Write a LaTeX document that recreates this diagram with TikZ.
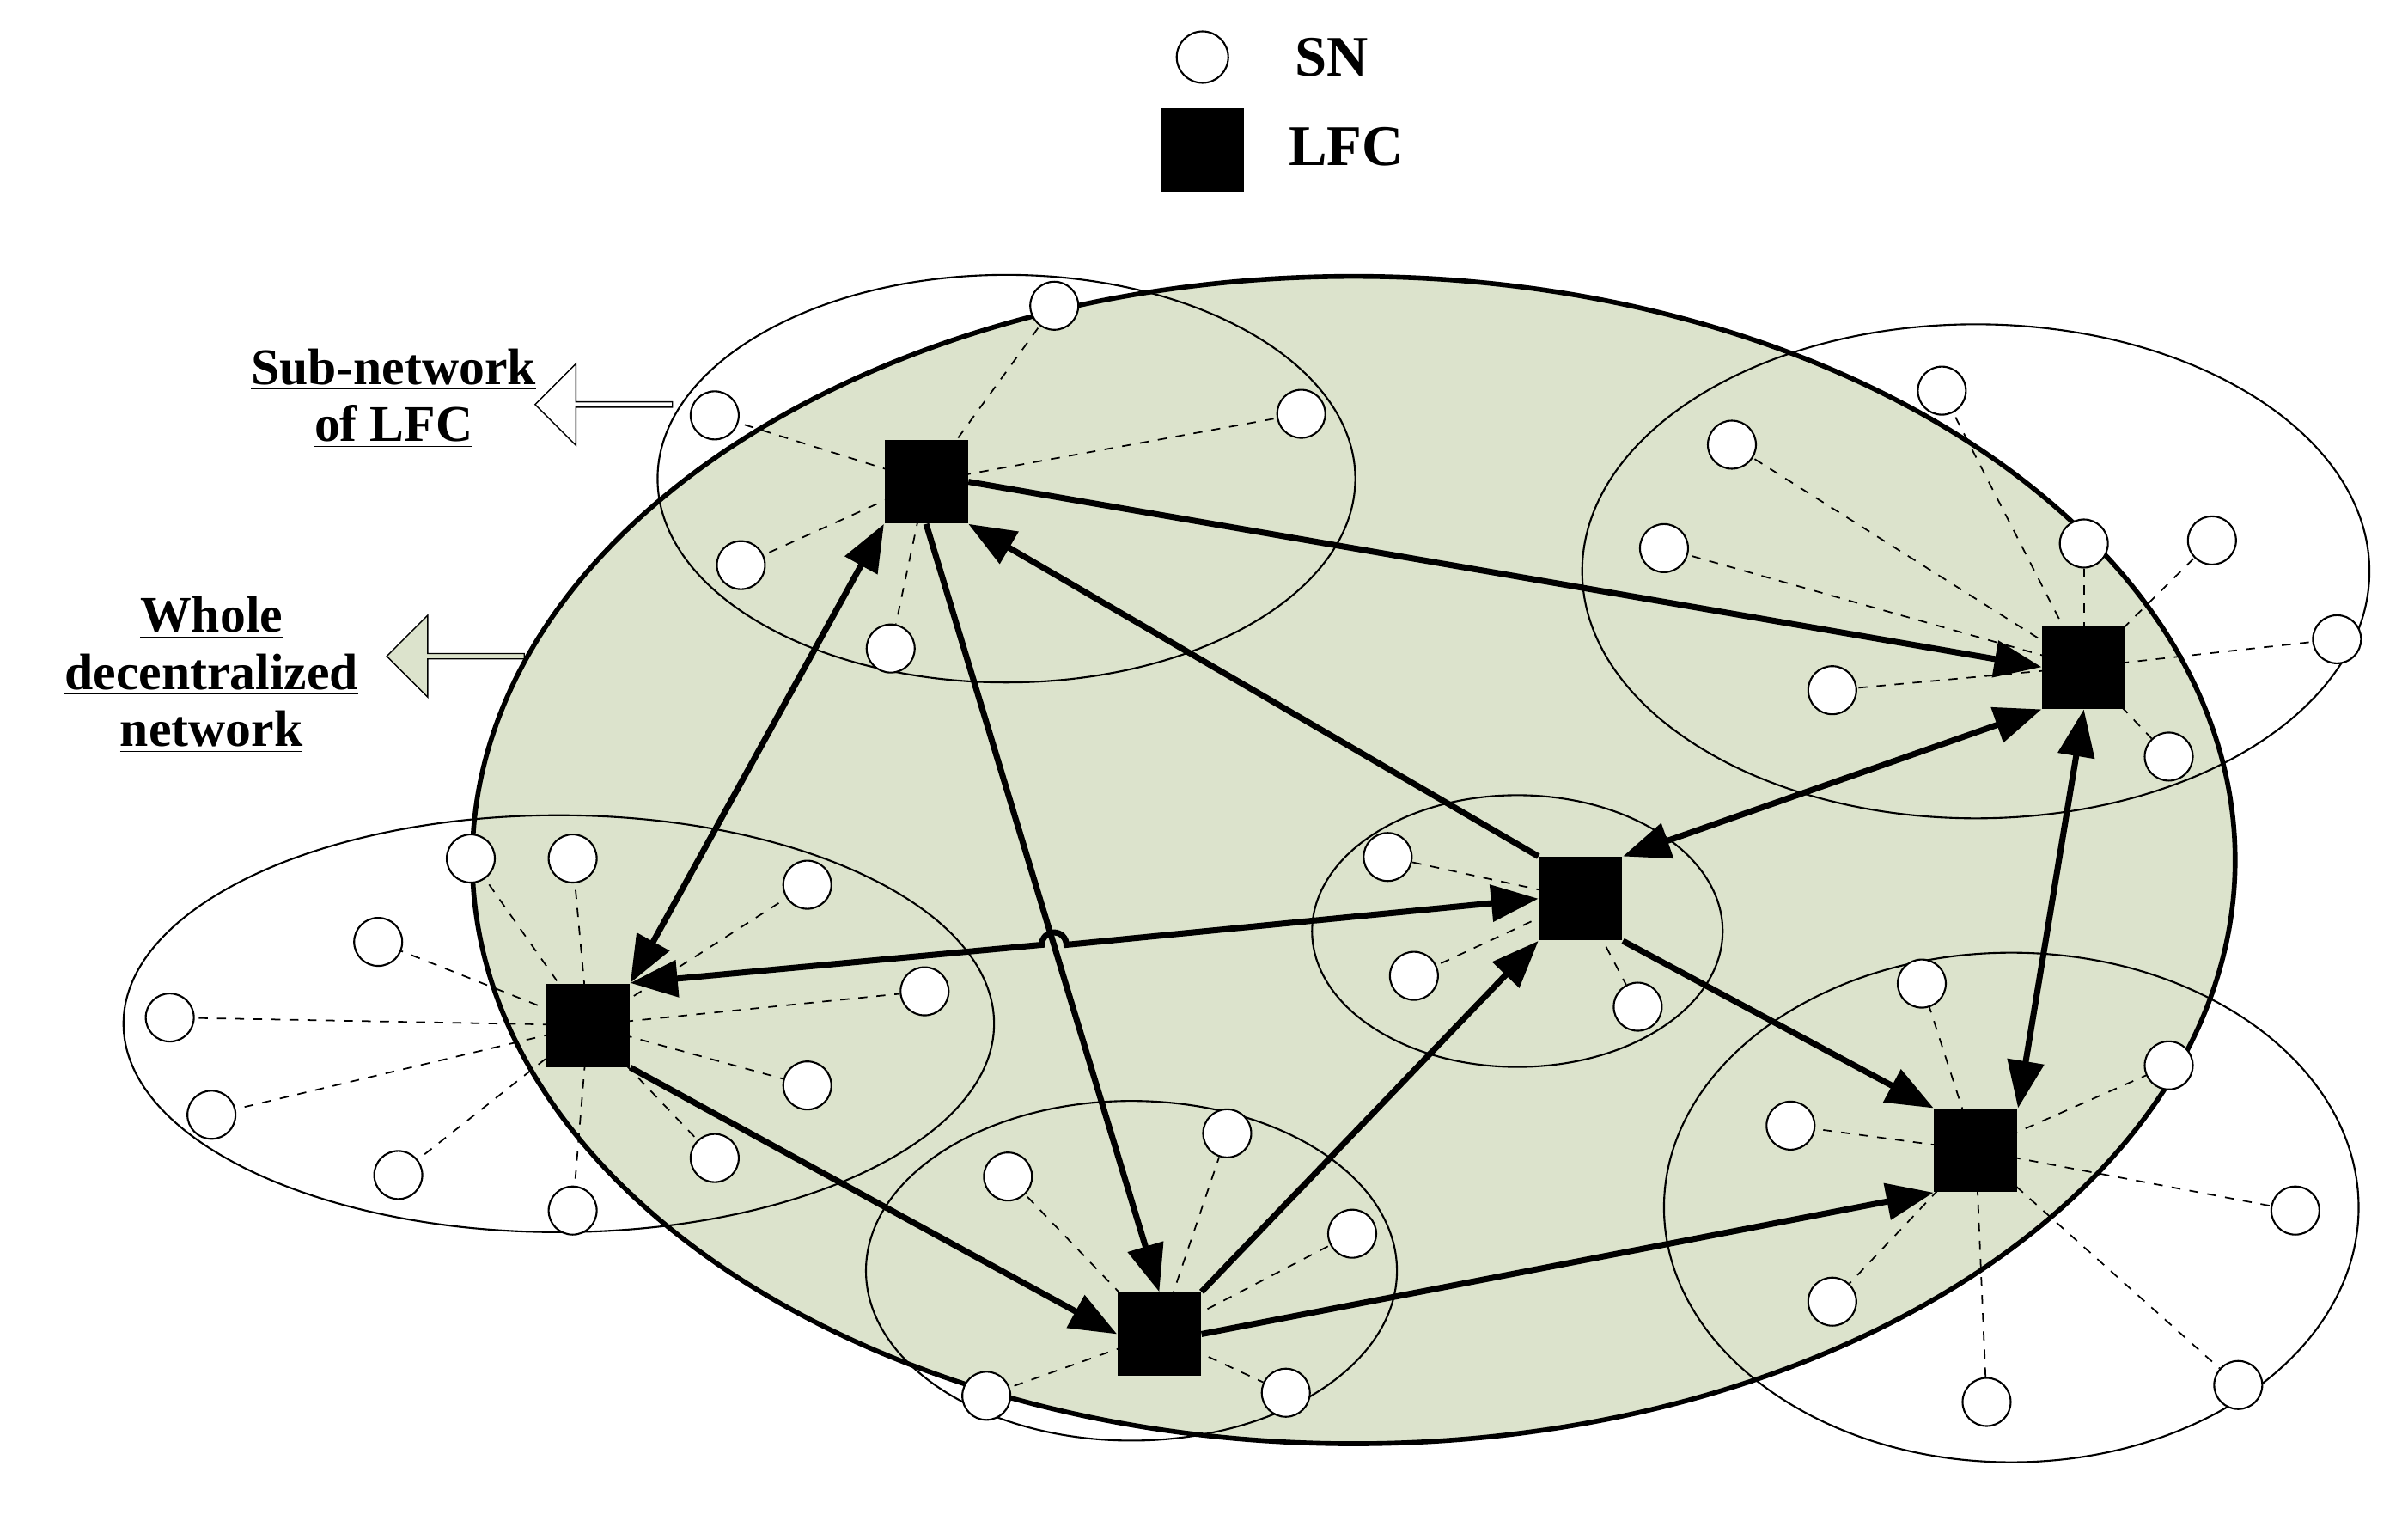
\documentclass[tikz,border=0pt]{standalone}
\usepackage{fontspec}
\setmainfont{Liberation Serif}
\usetikzlibrary{arrows.meta,calc,shapes.arrows}
\definecolor{bgg}{RGB}{220,227,204}
\begin{document}
\begin{tikzpicture}[x=0.01797cm,y=-0.01797cm,
  sn/.style={circle,draw,fill=white,inner sep=0,minimum size=0.56cm,line width=0.6pt},
  lfc/.style={rectangle,fill=black,inner sep=0,minimum size=0.97cm},
  sub/.style={draw,line width=0.6pt},
  dl/.style={dashed,line width=0.5pt},
  ar/.style={line width=2pt,-{Triangle[length=0.55cm,width=0.42cm]}},
  ba/.style={line width=2pt,{Triangle[length=0.55cm,width=0.42cm]}-{Triangle[length=0.55cm,width=0.42cm]}},
  lab/.style={font=\bfseries\fontsize{17}{21}\selectfont,align=center}]
\useasboundingbox (0,0) rectangle (1560,985);
% big ellipse
\fill[bgg] (877,557) ellipse [x radius=571*0.01797cm, y radius=378*0.01797cm];
% sub ellipses
\draw[sub] (652,310) ellipse [x radius=226*0.01797cm, y radius=132*0.01797cm];
\draw[sub] (1280,370) ellipse [x radius=255*0.01797cm, y radius=160*0.01797cm];
\draw[sub] (362,663) ellipse [x radius=282*0.01797cm, y radius=135*0.01797cm];
\draw[sub] (983,603) ellipse [x radius=133*0.01797cm, y radius=88*0.01797cm];
\draw[sub] (733,823) ellipse [x radius=172*0.01797cm, y radius=110*0.01797cm];
\draw[sub] (1303,782) ellipse [x radius=225*0.01797cm, y radius=165*0.01797cm];
\draw[line width=1.6pt] (877,557) ellipse [x radius=571*0.01797cm, y radius=378*0.01797cm];
% LFC positions
\coordinate (A) at (600,312);
\coordinate (B) at (1350,432);
\coordinate (C) at (1024,582);
\coordinate (D) at (381,664);
\coordinate (E) at (751,864);
\coordinate (F) at (1280,745);
% SNs
\foreach \p [count=\i] in {(463,269),(683,198),(843,268),(480,366),(577,420)}
  {\node[sn] (a\i) at \p {}; \draw[dl] (A) -- (a\i);}
\foreach \p [count=\i] in {(1258,253),(1122,288),(1078,355),(1350,352),(1433,350),(1514,414),(1187,447),(1405,490)}
  {\node[sn] (b\i) at \p {}; \draw[dl] (B) -- (b\i);}
\foreach \p [count=\i] in {(899,555),(916,632),(1061,652)}
  {\node[sn] (c\i) at \p {}; \draw[dl] (C) -- (c\i);}
\foreach \p [count=\i] in {(305,556),(371,556),(523,573),(245,610),(110,659),(599,642),(137,722),(523,703),(258,761),(463,750),(371,784)}
  {\node[sn] (d\i) at \p {}; \draw[dl] (D) -- (d\i);}
\foreach \p [count=\i] in {(653,762),(795,734),(876,799),(639,904),(833,902)}
  {\node[sn] (e\i) at \p {}; \draw[dl] (E) -- (e\i);}
\foreach \p [count=\i] in {(1245,637),(1405,690),(1160,729),(1487,784),(1187,843),(1287,908),(1450,897)}
  {\node[sn] (f\i) at \p {}; \draw[dl] (F) -- (f\i);}
% LFC squares
\node[lfc] (nA) at (A) {};
\node[lfc] (nB) at (B) {};
\node[lfc] (nC) at (C) {};
\node[lfc] (nD) at (D) {};
\node[lfc] (nE) at (E) {};
\node[lfc] (nF) at (F) {};
% connectors
\draw[ar] (nA.east) -- (nB.west);
\draw[ar] (nC.north west) -- (nA.south east);
\draw[ba] (nA.south west) -- (nD.north east);
\draw[ar] (nA.south) -- (nE.north);
\coordinate (J1) at ($(nD.north east)!0.453!(nC.west)$);
\draw[ba] (nD.north east) -- (J1) arc (180:0:8*0.01797cm) -- (nC.west);
\draw[ar] (nD.south east) -- (nE.west);
\draw[ar] (nE.north east) -- (nC.south west);
\draw[ar] (nE.east) -- (nF.south west);
\draw[ar] (nC.south east) -- (nF.north west);
\draw[ba] (nC.north east) -- (nB.south west);
\draw[ba] (nB.south) -- (nF.north east);
% legend
\node[sn,minimum size=0.6cm] (lsn) at (779,37) {};
\node[lfc] (llfc) at (779,97) {};
\node[lab,font=\bfseries\fontsize{19}{23}\selectfont,anchor=west] (tsn) at (832,37) {SN};
\node[lab,font=\bfseries\fontsize{19}{23}\selectfont,anchor=west] (tlfc) at (828,95) {LFC};
% labels
\node[lab] (tsub) at (255,258) {\underline{Sub-network}\\[-2pt]\underline{of LFC}};
\node[lab] (twh) at (137,437) {\underline{Whole}\\[-2pt]\underline{decentralized}\\[-2pt]\underline{network}};
\node[single arrow,draw,fill=white,shape border rotate=180,minimum height=1.6cm,minimum width=0.95cm,single arrow head extend=0.1cm,inner sep=0] (h1) at (392,262) {};
\node[single arrow,draw,fill=bgg,shape border rotate=180,minimum height=1.6cm,minimum width=0.95cm,single arrow head extend=0.1cm,inner sep=0] (h2) at (296,425) {};
\end{tikzpicture}
\end{document}
